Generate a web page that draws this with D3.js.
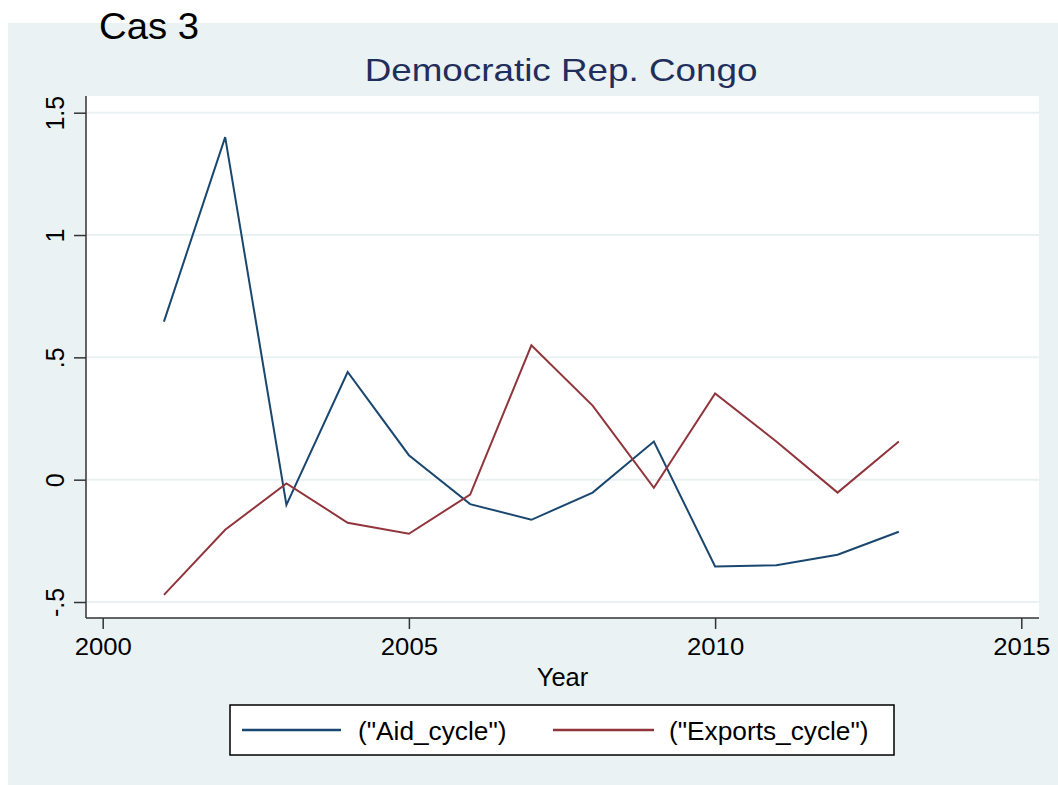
<!DOCTYPE html>
<html>
<head>
<meta charset="utf-8">
<script src="https://cdn.jsdelivr.net/npm/d3@7"></script>
<style>
  html, body { margin: 0; padding: 0; background: #ffffff; }
  svg { display: block; }
  text { font-family: "Liberation Sans", Arial, Helvetica, sans-serif; }
</style>
</head>
<body>
<svg id="chart" width="1058" height="785"></svg>
<script>
// Business-cycle components, Democratic Rep. Congo
const years = [2001, 2002, 2003, 2004, 2005, 2006, 2007, 2008, 2009, 2010, 2011, 2012, 2013];
const aidCycle = [0.646, 1.40, -0.103, 0.44, 0.10, -0.10, -0.164, -0.053, 0.156, -0.355, -0.350, -0.307, -0.213];
const exportsCycle = [-0.471, -0.205, -0.015, -0.176, -0.221, -0.061, 0.549, 0.303, -0.033, 0.352, 0.156, -0.053, 0.156];

const xTicks = [2000, 2005, 2010, 2015];
const yTicks = [-0.5, 0, 0.5, 1, 1.5];
const yTickLabels = ["-.5", "0", ".5", "1", "1.5"];

const seriesNames = ['("Aid_cycle")', '("Exports_cycle")'];
const seriesColors = ["#1A476F", "#90353B"];
const chartTitle = "Democratic Rep. Congo";
const caseLabel = "Cas 3";
const xTitle = "Year";

const panelColor = "#EAF2F3";
const gridColor = "#EAF1F3";

const svg = d3.select("#chart");

// widen text a touch, as the graph export is slightly stretched horizontally
function stretch(sel, f) {
  sel.each(function () {
    const w = this.getComputedTextLength();
    d3.select(this).attr("textLength", w * f).attr("lengthAdjust", "spacingAndGlyphs");
  });
}

// outer graph region
svg.append("rect").attr("x", 8).attr("y", 23).attr("width", 1050).attr("height", 762).attr("fill", panelColor);

// plot region
const plot = { left: 86, right: 1039, top: 96, bottom: 618 };
svg.append("rect")
  .attr("x", plot.left).attr("y", plot.top)
  .attr("width", plot.right - plot.left).attr("height", plot.bottom - plot.top)
  .attr("fill", "#ffffff");

const x = d3.scaleLinear().domain([2000, 2015]).range([102.7, 1021.3]);
const y = d3.scaleLinear().domain([-0.5, 1.5]).range([602, 112.7]);

// gridlines
svg.append("g").selectAll("line").data(yTicks).join("line")
  .attr("x1", plot.left + 1).attr("x2", plot.right)
  .attr("y1", d => y(d)).attr("y2", d => y(d))
  .attr("stroke", gridColor).attr("stroke-width", 2);

// y axis
const yAxis = svg.append("g")
  .attr("transform", `translate(${plot.left},0)`)
  .call(d3.axisLeft(y).tickValues(yTicks).tickSize(12).tickSizeOuter(0)
    .tickFormat((d, i) => yTickLabels[i]));
yAxis.select(".domain").attr("d", `M0,${plot.top}V${plot.bottom}`);
yAxis.selectAll(".domain, .tick line").attr("stroke", "#333333").attr("stroke-width", 1.5);
yAxis.selectAll(".tick text")
  .attr("x", 0).attr("dy", 0)
  .attr("transform", "translate(-22,0) rotate(-90)")
  .attr("text-anchor", "middle")
  .attr("font-size", 25).attr("fill", "#000");

// x axis
const xAxis = svg.append("g")
  .attr("transform", `translate(0,${plot.bottom})`)
  .call(d3.axisBottom(x).tickValues(xTicks).tickSize(11).tickSizeOuter(0).tickFormat(d3.format("d")));
xAxis.select(".domain").attr("d", `M${plot.left},0H${plot.right}`);
xAxis.selectAll(".domain, .tick line").attr("stroke", "#333333").attr("stroke-width", 1.5);
xAxis.selectAll(".tick text")
  .attr("y", 37).attr("dy", 0)
  .attr("font-size", 24).attr("fill", "#000");
stretch(xAxis.selectAll(".tick text"), 1.07);

// axis title
const xt = svg.append("text").attr("x", (plot.left + plot.right) / 2).attr("y", 686)
  .attr("text-anchor", "middle").attr("font-size", 25).attr("fill", "#000").text(xTitle);
stretch(xt, 1.02);

// series lines
const line = d3.line().x((d, i) => x(years[i])).y(d => y(d));
[aidCycle, exportsCycle].forEach((vals, k) => {
  svg.append("path").datum(vals)
    .attr("d", line)
    .attr("fill", "none")
    .attr("stroke", seriesColors[k])
    .attr("stroke-width", 2)
    .attr("stroke-linejoin", "miter");
});

// title
const tt = svg.append("text").attr("x", 561).attr("y", 81)
  .attr("text-anchor", "middle").attr("font-size", 32).attr("fill", "#1F2E5A").text(chartTitle);
stretch(tt, 1.15);

// case label in the top-left corner
svg.append("text").attr("x", 99).attr("y", 39)
  .attr("font-family", "'Open Sans', Lato, sans-serif")
  .attr("font-size", 36).attr("fill", "#000")
  .attr("textLength", 100).attr("lengthAdjust", "spacingAndGlyphs")
  .text(caseLabel);

// legend
const legend = svg.append("g");
legend.append("rect").attr("x", 230).attr("y", 705).attr("width", 664).attr("height", 50)
  .attr("fill", "#ffffff").attr("stroke", "#000").attr("stroke-width", 1.5);
const legendItems = [
  { x1: 242, x2: 341, tx: 358 },
  { x1: 553, x2: 654, tx: 669 }
];
legendItems.forEach((it, k) => {
  legend.append("line").attr("x1", it.x1).attr("x2", it.x2).attr("y1", 730).attr("y2", 730)
    .attr("stroke", seriesColors[k]).attr("stroke-width", 2.5);
  const t = legend.append("text").attr("x", it.tx).attr("y", 740)
    .attr("font-size", 25).attr("fill", "#000").text(seriesNames[k]);
  stretch(t, 1.05);
});
</script>
</body>
</html>
